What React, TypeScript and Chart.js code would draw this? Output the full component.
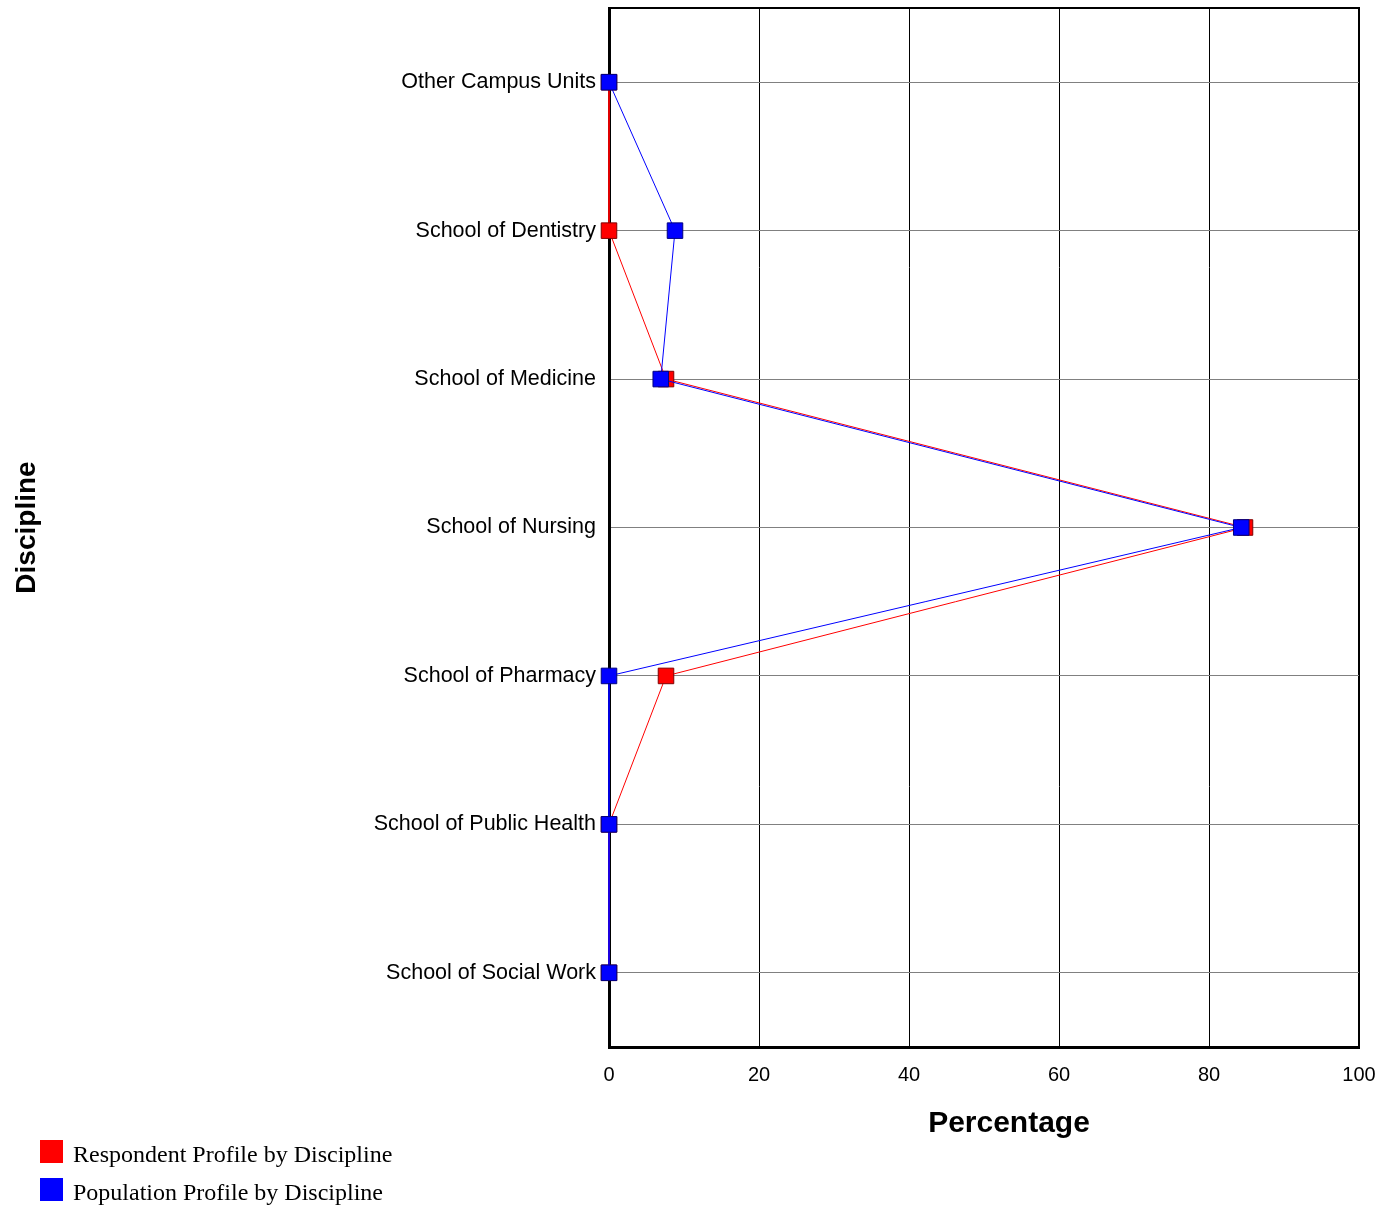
import React, { useEffect, useRef } from "react";
import { Chart, registerables } from "chart.js";

Chart.register(...registerables);

const categories = [
  "Other Campus Units",
  "School of Dentistry",
  "School of Medicine",
  "School of Nursing",
  "School of Pharmacy",
  "School of Public Health",
  "School of Social Work",
];
const respondentValues = [0, 0, 7.6, 84.8, 7.6, 0, 0];
const populationValues = [0, 8.8, 6.9, 84.3, 0, 0, 0];
const seriesLabels = ["Respondent Profile by Discipline", "Population Profile by Discipline"];
const xTitle = "Percentage";
const yTitle = "Discipline";

const SANS = "'Liberation Sans', Arial, sans-serif";
const SERIF = "'Liberation Serif', 'Times New Roman', serif";

const extrasPlugin = {
  id: "extras",
  afterDraw(chart: any) {
    const { ctx, chartArea } = chart;
    ctx.save();
    // top frame line
    ctx.strokeStyle = "#000";
    ctx.lineWidth = 2;
    ctx.beginPath();
    ctx.moveTo(chartArea.left, chartArea.top);
    ctx.lineTo(chartArea.right + 1, chartArea.top);
    ctx.stroke();
    // x axis title
    ctx.fillStyle = "#000";
    ctx.font = `bold 30px ${SANS}`;
    ctx.textAlign = "center";
    ctx.textBaseline = "alphabetic";
    ctx.fillText(xTitle, 1009, 1132);
    // legend
    ctx.font = `24px ${SERIF}`;
    ctx.textAlign = "left";
    chart.data.datasets.forEach((ds: any, i: number) => {
      const y = 1140 + i * 38;
      ctx.fillStyle = ds.borderColor;
      ctx.fillRect(40, y, 23, 23);
      ctx.fillStyle = "#000";
      ctx.fillText(ds.label, 73, y + 22);
    });
    ctx.restore();
  },
};

export default function App() {
  const canvasRef = useRef<HTMLCanvasElement | null>(null);

  useEffect(() => {
    if (!canvasRef.current) return;
    const chart = new Chart(canvasRef.current, {
      type: "line",
      data: {
        labels: categories,
        datasets: [
          {
            label: seriesLabels[0],
            data: respondentValues,
            borderColor: "#ff0000",
            backgroundColor: "#ff0000",
            pointBackgroundColor: "#ff0000",
            pointBorderColor: "#800000",
            borderWidth: 1,
            pointBorderWidth: 1,
            pointStyle: "rect",
            pointRadius: 11,
            tension: 0,
            clip: false,
            order: 1,
          },
          {
            label: seriesLabels[1],
            data: populationValues,
            borderColor: "#0000ff",
            backgroundColor: "#0000ff",
            pointBackgroundColor: "#0000ff",
            pointBorderColor: "#000080",
            borderWidth: 1,
            pointBorderWidth: 1,
            pointStyle: "rect",
            pointRadius: 11,
            tension: 0,
            clip: false,
            order: 0,
          },
        ],
      },
      options: {
        indexAxis: "y",
        animation: false,
        responsive: true,
        maintainAspectRatio: false,
        layout: { autoPadding: false, padding: { top: 8, right: 33, bottom: 108, left: 0 } },
        plugins: {
          legend: { display: false },
          tooltip: { enabled: false },
        },
        scales: {
          x: {
            type: "linear",
            position: "bottom",
            min: 0,
            max: 100,
            ticks: {
              stepSize: 20,
              color: "#000",
              padding: 16,
              font: { family: SANS, size: 20 },
              maxRotation: 0,
            },
            grid: {
              color: "#000",
              lineWidth: (c: any) => (c.tick && c.tick.value === 100 ? 2 : 1),
              drawTicks: false,
            },
            border: { color: "#000", width: 3 },
            afterFit(scale: any) {
              scale.height = 50;
              scale.paddingLeft = 0;
              scale.paddingRight = 0;
              scale.paddingTop = 0;
              scale.paddingBottom = 0;
            },
          },
          y: {
            type: "category",
            position: "left",
            offset: true,
            ticks: {
              color: "#000",
              padding: 13,
              font: { family: SANS, size: 21.5, lineHeight: 1.0 },
            },
            grid: {
              color: "#808080",
              lineWidth: 1,
              offset: false,
              drawTicks: false,
            },
            border: { color: "#000", width: 3 },
            title: {
              display: true,
              text: yTitle,
              color: "#000",
              font: { family: SANS, size: 28, weight: "bold" },
              padding: { top: 10, bottom: 0 },
            },
            afterFit(scale: any) {
              scale.width = 609;
              scale.paddingLeft = 0;
              scale.paddingRight = 0;
              scale.paddingTop = 0;
              scale.paddingBottom = 0;
            },
          },
        },
      },
      plugins: [extrasPlugin],
    });
    return () => chart.destroy();
  }, []);

  return (
    <div style={{ position: "absolute", left: 0, top: 0, width: 1392, height: 1205, background: "#fff" }}>
      <canvas ref={canvasRef} />
    </div>
  );
}
